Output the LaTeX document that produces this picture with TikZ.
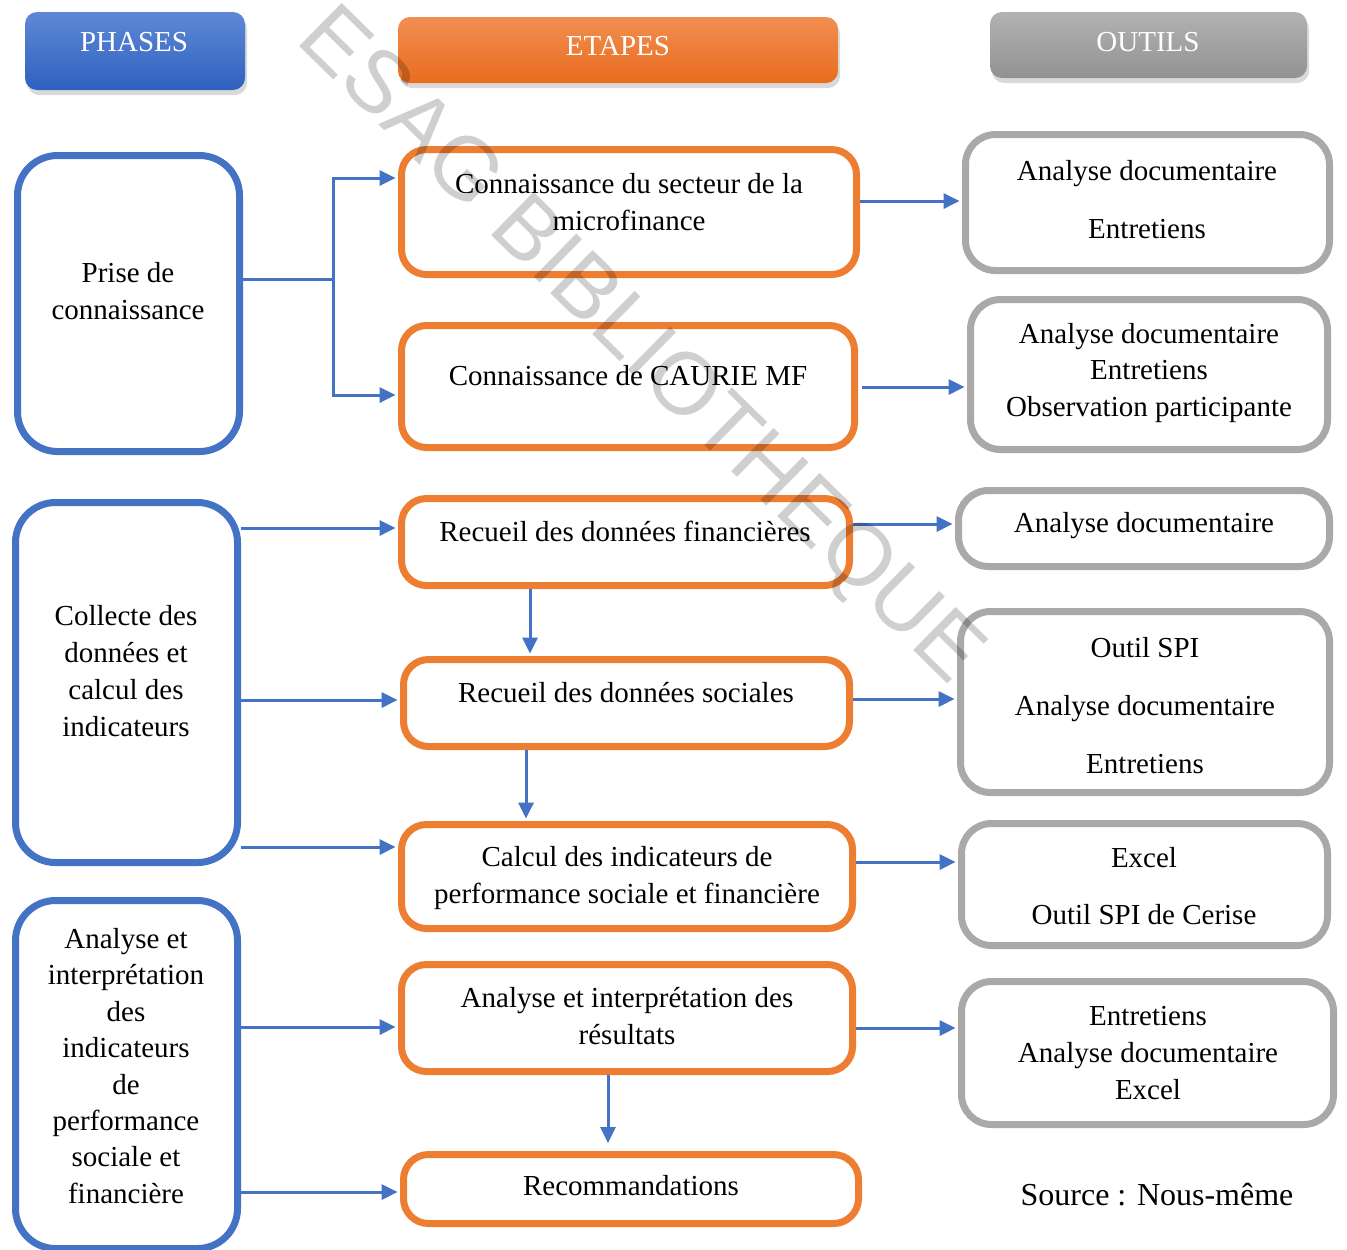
\documentclass[tikz,border=0pt]{standalone}
\usepackage{fontspec}
\setmainfont{Liberation Serif}
\newfontfamily\wmfont{Liberation Sans}
\usetikzlibrary{arrows.meta,shadows}
\definecolor{bblue}{HTML}{4472C4}
\definecolor{orng}{HTML}{ED7D31}
\definecolor{ogray}{HTML}{ABA8A8}
\definecolor{hbT}{HTML}{5F88D6}
\definecolor{hbB}{HTML}{2E61C0}
\definecolor{hoT}{HTML}{F28E52}
\definecolor{hoB}{HTML}{E86C1D}
\definecolor{hgT}{HTML}{B2B2B2}
\definecolor{hgB}{HTML}{929292}
\tikzset{
  phasebox/.style={draw=bblue, line width=3.5pt, rounded corners=20pt, inner sep=0pt, rectangle},
  etapebox/.style={draw=orng, line width=3.5pt, rounded corners=12.5pt, inner sep=0pt, rectangle},
  outilbox/.style={draw=ogray, line width=3.5pt, rounded corners=15pt, inner sep=0pt, rectangle},
  headbox/.style={rectangle, rounded corners=6pt, inner sep=0pt, drop shadow={shadow xshift=1pt, shadow yshift=-2.5pt, opacity=0.3}},
  headtxt/.style={text=white, font=\fontsize{14.5}{18}\selectfont, inner sep=0pt},
  txt/.style={align=center, inner sep=0pt, font=\fontsize{14.5}{18.4}\selectfont},
  arr/.style={draw=bblue, line width=1.5pt, -{Triangle[length=8pt,width=7.5pt]}, shorten >=1.2pt},
  wm/.style={font=\wmfont\fontsize{44}{44}\selectfont, text=black, text opacity=0.19, rotate=-44.5, inner sep=0pt}
}
\begin{document}
\begin{tikzpicture}[x=0.5pt,y=-0.5pt]
\useasboundingbox (0,0) rectangle (1347,1249);

% headers
\node[headbox, top color=hbT, bottom color=hbB, minimum width=110pt, minimum height=39pt] (HP) at (135,51) {};
\node[headbox, top color=hoT, bottom color=hoB, minimum width=220pt, minimum height=33pt] (HE) at (618,50) {};
\node[headbox, top color=hgT, bottom color=hgB, minimum width=158.5pt, minimum height=33pt] (HO) at (1148.5,45) {};
\node[headtxt] (HPt) at (134,42) {PHASES};
\node[headtxt] (HEt) at (618,46) {ETAPES};
\node[headtxt] (HOt) at (1148,42) {OUTILS};

% phases
\node[phasebox, minimum width=111pt, minimum height=148pt] (P1) at (128.5,303.5) {};
\node[phasebox, minimum width=111pt, minimum height=180pt] (P2) at (126.5,682.5) {};
\node[phasebox, minimum width=111pt, minimum height=174pt] (P3) at (126.5,1074.5) {};
\node[txt] (P1t) at (128,293.5) {\strut Prise de\\\strut connaissance};
\node[txt] (P2t) at (126,673.5) {\strut Collecte des\\\strut données et\\\strut calcul des\\\strut indicateurs};
\node[txt, font=\fontsize{14.5}{18.2}\selectfont] (P3t) at (126,1068.5) {\strut Analyse et\\\strut interprétation\\\strut des\\\strut indicateurs\\\strut de\\\strut performance\\\strut sociale et\\\strut financière};

% etapes
\node[etapebox, minimum width=227.5pt, minimum height=62.5pt] (E1) at (629,212) {};
\node[etapebox, minimum width=226.5pt, minimum height=61pt] (E2) at (628,386.5) {};
\node[etapebox, minimum width=224pt, minimum height=43.5pt] (E3) at (625.5,542) {};
\node[etapebox, minimum width=223pt, minimum height=43.5pt] (E4) at (626.5,703) {};
\node[etapebox, minimum width=225.5pt, minimum height=52pt] (E5) at (627,876.5) {};
\node[etapebox, minimum width=225.5pt, minimum height=53.5pt] (E6) at (627,1018) {};
\node[etapebox, minimum width=227.5pt, minimum height=34.5pt] (E7) at (631,1189) {};
\node[txt] (E1t) at (629,204.5) {\strut Connaissance du secteur de la\\\strut microfinance};
\node[txt] (E2t) at (628,378) {\strut Connaissance de CAURIE MF};
\node[txt] (E3t) at (625,534) {\strut Recueil des données financières};
\node[txt] (E4t) at (626,695) {\strut Recueil des données sociales};
\node[txt] (E5t) at (627,878) {\strut Calcul des indicateurs de\\\strut performance sociale et financière};
\node[txt] (E6t) at (627,1018.5) {\strut Analyse et interprétation des\\\strut résultats};
\node[txt] (E7t) at (631,1188) {\strut Recommandations};

% outils
\node[outilbox, minimum width=182pt, minimum height=68pt] (O1) at (1147.5,202.5) {};
\node[outilbox, minimum width=178.5pt, minimum height=75pt] (O2) at (1149,374.5) {};
\node[outilbox, minimum width=185.5pt, minimum height=38pt] (O3) at (1144,528.5) {};
\node[outilbox, minimum width=184.5pt, minimum height=90.5pt] (O4) at (1145,702) {};
\node[outilbox, minimum width=183pt, minimum height=61pt] (O5) at (1144.5,884.5) {};
\node[outilbox, minimum width=186pt, minimum height=71.5pt] (O6) at (1147.5,1053) {};
\node[txt] (O1t) at (1147,202) {\strut Analyse documentaire\\[10.5pt]\strut Entretiens};
\node[txt] (O2t) at (1149,372.5) {\strut Analyse documentaire\\\strut Entretiens\\\strut Observation participante};
\node[txt] (O3t) at (1144,525) {\strut Analyse documentaire};
\node[txt] (O4t) at (1145,708) {\strut Outil SPI\\[10.5pt]\strut Analyse documentaire\\[10.5pt]\strut Entretiens};
\node[txt] (O5t) at (1144,888.5) {\strut Excel\\[10pt]\strut Outil SPI de Cerise};
\node[txt] (O6t) at (1148,1055) {\strut Entretiens\\\strut Analyse documentaire\\\strut Excel};
\node[txt, font=\fontsize{16}{19}\selectfont] (src) at (1157,1198) {\strut Source : Nous-même};

% connectors
\coordinate (j1) at (333,279);
\draw[arr] (P1.east |- j1) -- (j1) |- (E1.west |- 0,178);
\draw[arr] (j1) |- (E2.west |- 0,395);
\draw[arr] (E1.east |- 0,201) -- (O1.west |- 0,201);
\draw[arr] ([xshift=2pt]E2.east |- 0,387) -- (O2.west |- 0,387);
\draw[arr] (P2.east |- 0,528) -- (E3.west |- 0,528);
\draw[arr] (E3.east |- 0,524) -- (O3.west |- 0,524);
\draw[arr] (E3.south -| 530,0) -- (E4.north -| 530,0);
\draw[arr] (P2.east |- 0,700) -- (E4.west |- 0,700);
\draw[arr] (E4.east |- 0,699) -- (O4.west |- 0,699);
\draw[arr] (E4.south -| 526,0) -- (E5.north -| 526,0);
\draw[arr] (P2.east |- 0,847) -- (E5.west |- 0,847);
\draw[arr] (E5.east |- 0,862) -- (O5.west |- 0,862);
\draw[arr] (P3.east |- 0,1027) -- (E6.west |- 0,1027);
\draw[arr] (E6.east |- 0,1028) -- (O6.west |- 0,1028);
\draw[arr, shorten >=4pt] (E6.south -| 608,0) -- (E7.north -| 608,0);
\draw[arr] (P3.east |- 0,1192) -- (E7.west |- 0,1192);

% watermark
\node[wm] (wmk) at (638,348) {ESAG BIBLIOTHEQUE};
\end{tikzpicture}
\end{document}
